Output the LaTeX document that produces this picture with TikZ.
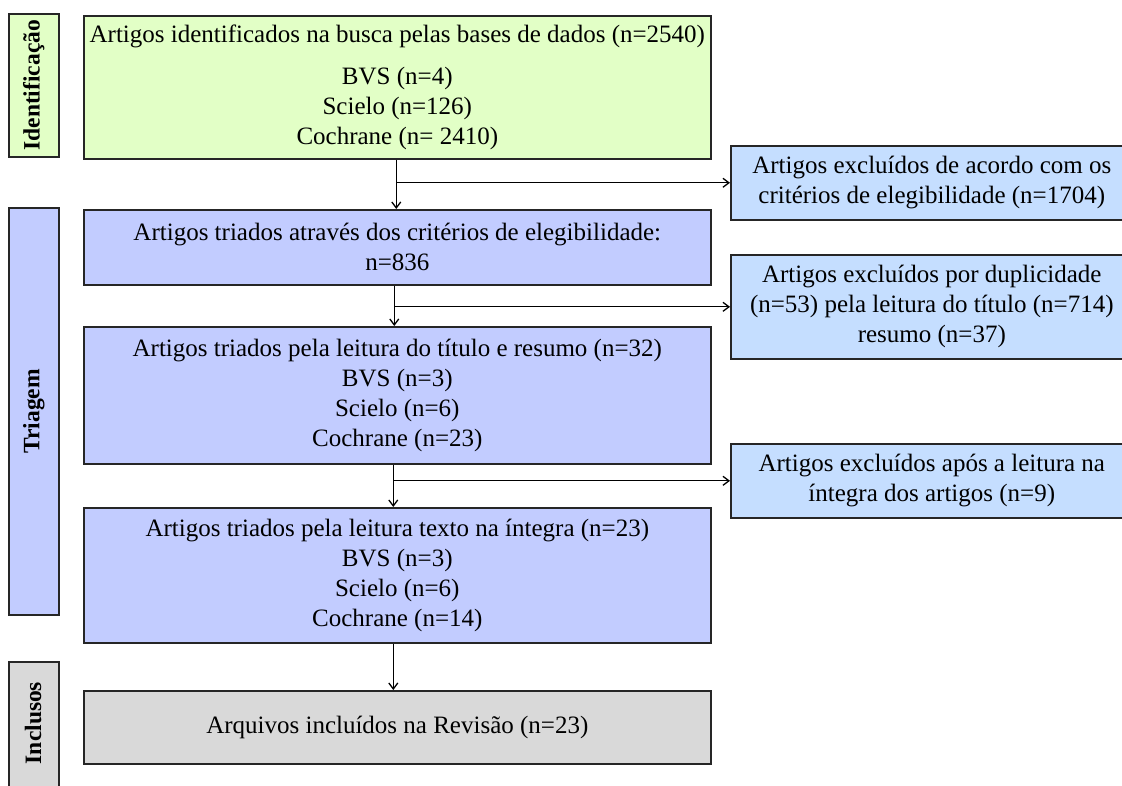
\documentclass[tikz,border=0pt]{standalone}
\usepackage{fontspec}
\setmainfont{Liberation Serif}
\usetikzlibrary{arrows.meta}
\definecolor{idgreen}{RGB}{226,255,198}
\definecolor{trilav}{RGB}{194,204,255}
\definecolor{exblue}{RGB}{197,222,255}
\definecolor{incgray}{RGB}{217,217,217}
\tikzset{
  box/.style={draw=black!85, line width=1.6pt, anchor=north west, align=center, inner sep=2pt,
    font=\fontsize{25}{30}\selectfont},
  sidebar/.style={draw=black!85, line width=1.6pt, anchor=north west, inner sep=0pt},
  sidelabel/.style={rotate=90, font=\fontsize{23.5}{26}\selectfont\bfseries},
  conn/.style={line width=1.3pt, -{Straight Barb[length=6pt,width=9pt,line width=1.3pt]}},
}
\begin{document}
\begin{tikzpicture}[x=1pt,y=-1pt]
\useasboundingbox (0,0) rectangle (1122,785);
\clip (0,0) rectangle (1122,785);
% side bars
\node[sidebar, fill=idgreen, minimum width=50pt, minimum height=143pt] (sid) at (8,13) {};
\node[sidelabel] (lid) at (sid.center) {Identificação};
\node[sidebar, fill=trilav, minimum width=50pt, minimum height=407pt] (stri) at (8,207) {};
\node[sidelabel] (ltri) at (stri.center) {Triagem};
\node[sidebar, fill=incgray, minimum width=50pt, minimum height=150pt] (sinc) at (8,661) {};
\node[sidelabel] (linc) at (8+25,723) {Inclusos};
% main column
\node[box, fill=idgreen, minimum width=627pt, minimum height=143pt] (b1) at (83,15)
  {Artigos identificados na busca pelas bases de dados (n=2540)\\[12pt]BVS (n=4)\\Scielo (n=126)\\Cochrane (n= 2410)};
\node[box, fill=trilav, minimum width=627pt, minimum height=75pt] (b2) at (83,209)
  {Artigos triados através dos critérios de elegibilidade:\\n=836};
\node[box, fill=trilav, minimum width=627pt, minimum height=137pt] (b3) at (83,326)
  {Artigos triados pela leitura do título e resumo (n=32)\\BVS (n=3)\\Scielo (n=6)\\Cochrane (n=23)};
\node[box, fill=trilav, minimum width=627pt, minimum height=135pt] (b4) at (83,507)
  {Artigos triados pela leitura texto na íntegra (n=23)\\BVS (n=3)\\Scielo (n=6)\\Cochrane (n=14)};
\node[box, fill=incgray, minimum width=627pt, minimum height=73pt] (b5) at (83,690)
  {Arquivos incluídos na Revisão (n=23)};
% exclusion boxes
\node[box, fill=exblue, minimum width=402pt, minimum height=74pt] (r1) at (730,145)
  {Artigos excluídos de acordo com os\\critérios de elegibilidade (n=1704)};
\node[box, fill=exblue, minimum width=402pt, minimum height=104pt] (r2) at (730,254)
  {Artigos excluídos por duplicidade\\(n=53) pela leitura do título (n=714)\\resumo (n=37)};
\node[box, fill=exblue, minimum width=402pt, minimum height=74pt] (r3) at (730,443)
  {Artigos excluídos após a leitura na\\íntegra dos artigos (n=9)};
% connectors
\draw[conn] ([xshift=-1pt]b1.south) -- ([xshift=-1pt]b2.north);
\draw[conn] ([xshift=-1pt]b1.south |- r1.west) -- (r1.west);
\draw[conn] ([xshift=-3pt]b2.south) -- ([xshift=-3pt]b3.north);
\draw[conn] ([xshift=-3pt]b2.south |- r2.west) -- (r2.west);
\draw[conn] ([xshift=-4pt]b3.south) -- ([xshift=-4pt]b4.north);
\draw[conn] ([xshift=-4pt]b3.south |- r3.west) -- (r3.west);
\draw[conn] ([xshift=-4pt]b4.south) -- ([xshift=-4pt]b5.north);
\end{tikzpicture}
\end{document}
